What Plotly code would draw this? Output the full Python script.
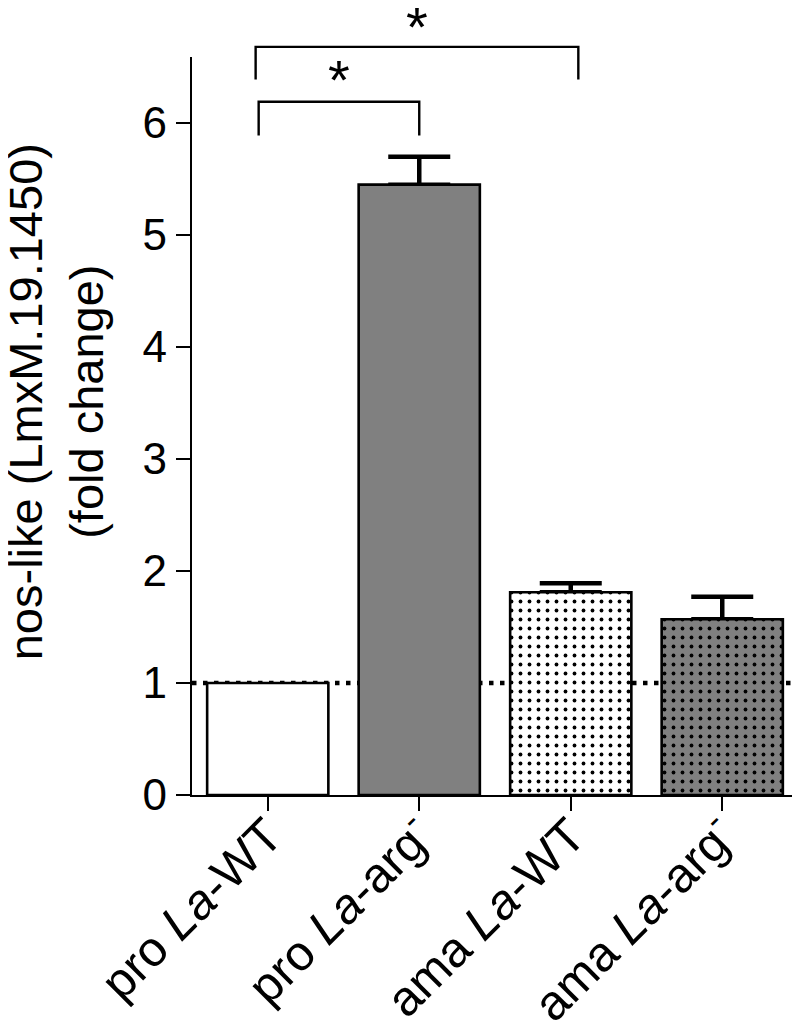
import plotly.graph_objects as go

# ---- data ----
categories = ["pro La-WT", "pro La-arg-", "ama La-WT", "ama La-arg-"]
tick_labels = ["pro <i>La</i>-WT", "pro <i>La</i>-arg<sup>-</sup>",
               "ama <i>La</i>-WT", "ama <i>La</i>-arg<sup>-</sup>"]
fold_change = [1.0, 5.45, 1.81, 1.57]
sem_upper = [0.0, 0.25, 0.08, 0.20]
bar_fill = ["#ffffff", "#808080", "#ffffff", "#808080"]
bar_pattern = ["", "", ".", "."]
y_ticks = [0, 1, 2, 3, 4, 5, 6]
baseline = 1.0

# significance brackets
brk_x0 = [-0.06, -0.08]
brk_x1 = [1.0, 2.05]
brk_top = [6.19, 6.68]
brk_leg = [5.89, 6.39]
star_y = [6.39, 6.86]
star_text = ["*", "*"]

YMAX = 6.59
FONT = "Liberation Sans, Arial, sans-serif"

xpos = list(range(len(categories)))

fig = go.Figure()

# upper SEM error bars (transparent bars, drawn first so the bars cover the lower caps)
idx = [i for i, e in enumerate(sem_upper) if e > 0]
fig.add_trace(go.Bar(
    x=[xpos[i] for i in idx], y=[fold_change[i] for i in idx],
    width=0.8,
    marker=dict(color="rgba(0,0,0,0)", line=dict(width=0)),
    error_y=dict(type="data", symmetric=False,
                 array=[sem_upper[i] for i in idx],
                 arrayminus=[0 for _ in idx],
                 color="black", thickness=4.5, width=31),
    showlegend=False, hoverinfo="skip",
))

# one bar trace per group (scalar colours so the dot pattern keeps its background)
for i, cat in enumerate(categories):
    fig.add_trace(go.Bar(
        x=[xpos[i]], y=[fold_change[i]], width=0.8, name=cat,
        marker=dict(
            color=bar_fill[i],
            line=dict(color="black", width=2.6),
            pattern=dict(shape=bar_pattern[i], bgcolor=bar_fill[i], fgcolor="black",
                         size=9, solidity=0.14, fillmode="replace"),
        ),
        showlegend=False,
    ))

# dotted reference line at fold change 1
fig.add_shape(type="line", xref="x", yref="y", x0=-0.5, x1=3.5,
              y0=baseline, y1=baseline, layer="below",
              line=dict(color="black", width=4.5, dash="4.5px,6.5px"))

# significance brackets
for x0, x1, top, leg, sy, st in zip(brk_x0, brk_x1, brk_top, brk_leg, star_y, star_text):
    yt, yl = top / YMAX, leg / YMAX
    fig.add_shape(type="path", xref="x", yref="paper",
                  path=f"M {x0},{yl} L {x0},{yt} L {x1},{yt} L {x1},{yl}",
                  line=dict(color="black", width=2.4))
    fig.add_annotation(x=(x0 + x1) / 2, y=sy / YMAX, xref="x", yref="paper",
                       text=st, showarrow=False, yanchor="middle",
                       font=dict(family=FONT, size=56, color="black"))

# y-axis title
fig.add_annotation(x=-0.224, y=0.5325, xref="paper", yref="paper",
                   text="nos-like (LmxM.19.1450)<br>(fold change)",
                   textangle=-90, showarrow=False,
                   xanchor="center", yanchor="middle",
                   font=dict(family=FONT, size=47, color="black"))

fig.update_layout(
    width=800, height=1031,
    margin=dict(l=184, r=10, t=49, b=244, autoexpand=False),
    paper_bgcolor="white", plot_bgcolor="white",
    barmode="overlay",
    font=dict(family=FONT, color="black"),
    xaxis=dict(range=[-0.5, 3.5], tickmode="array", tickvals=xpos, ticktext=tick_labels,
               tickangle=-45, ticks="outside", ticklen=14, tickwidth=2, tickcolor="black",
               showline=True, linecolor="black", linewidth=2.2, showgrid=False,
               zeroline=False, automargin=False, ticklabelstandoff=-24,
               tickfont=dict(family=FONT, size=49, color="black")),
    yaxis=dict(range=[0, YMAX], tickmode="array", tickvals=y_ticks,
               ticks="outside", ticklen=14, tickwidth=2, tickcolor="black",
               showline=True, linecolor="black", linewidth=2.2, showgrid=False,
               zeroline=False, automargin=False,
               tickfont=dict(family=FONT, size=44, color="black")),
)

fig.write_html("out.html")
